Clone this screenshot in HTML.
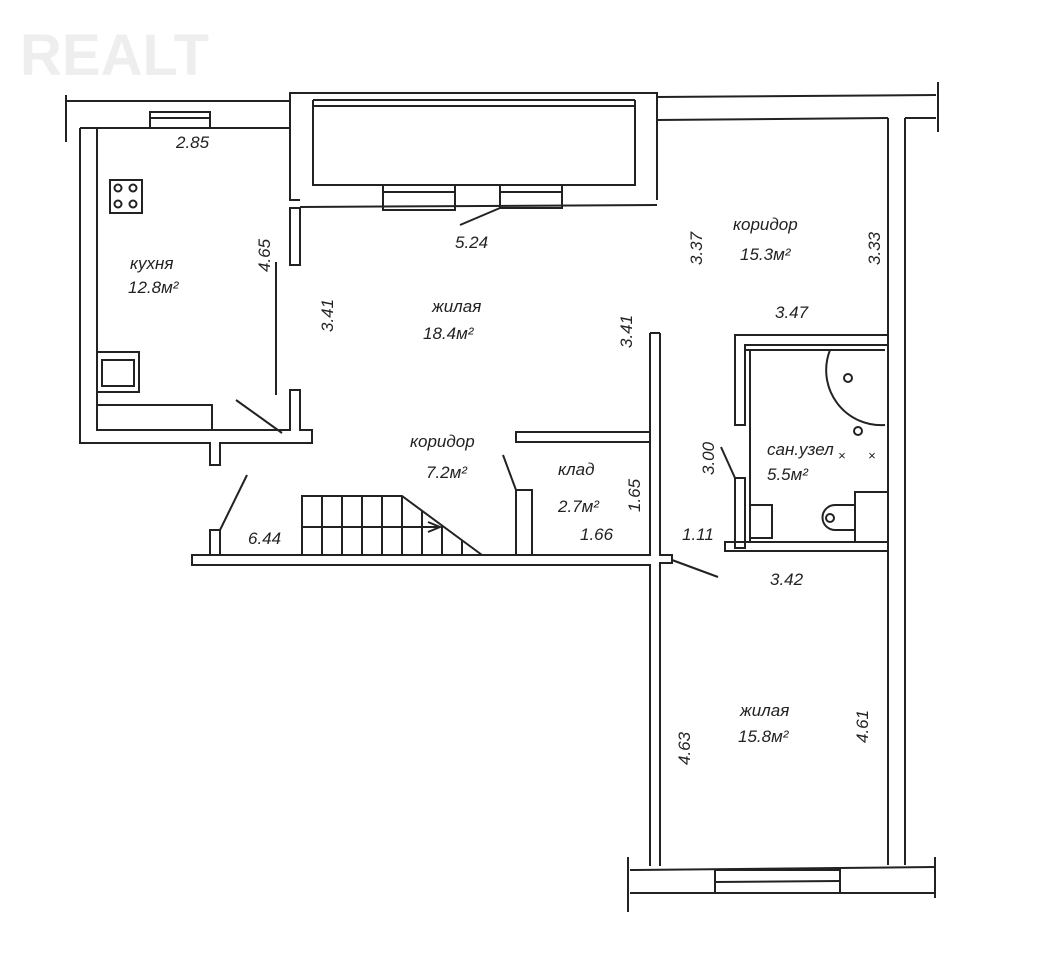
<!DOCTYPE html>
<html><head><meta charset="utf-8"><style>
html,body{margin:0;padding:0;background:#fff}
svg{display:block}
text{font-family:"Liberation Sans",sans-serif;font-style:italic;fill:#222;font-size:17px}
</style></head><body>
<svg width="1049" height="973" viewBox="0 0 1049 973" xmlns="http://www.w3.org/2000/svg">
<g fill="none" stroke="#222" stroke-width="2">
<!-- watermark -->
<text x="20" y="75" style="font-size:58px;font-style:normal;font-weight:bold;fill:#eee;stroke:none">REALT</text>
<!-- top left exterior -->
<line x1="66" y1="95" x2="66" y2="142"/>
<polyline points="66,101 290,101"/>
<polyline points="80,128 290,128"/>
<rect x="150" y="112" width="60" height="16"/>
<line x1="150" y1="118" x2="210" y2="118"/>
<!-- kitchen walls -->
<polyline points="290,128 290,200 300,200"/>
<polyline points="80,128 80,443 210,443 210,465 220,465 220,443 312,443 312,430 300,430 300,390 290,390 290,430 97,430 97,128"/>
<line x1="276" y1="262" x2="276" y2="395"/>
<line x1="236" y1="400" x2="282" y2="433"/>
<rect x="290" y="208" width="10" height="57"/>
<rect x="97" y="405" width="115" height="25"/>
<rect x="97" y="352" width="42" height="40"/>
<rect x="102" y="360" width="32" height="26"/>
<rect x="110" y="180" width="32" height="33"/>
<circle cx="118" cy="188" r="3.5"/><circle cx="133" cy="188" r="3.5"/>
<circle cx="118" cy="204" r="3.5"/><circle cx="133" cy="204" r="3.5"/>
<!-- loggia -->
<polyline points="290,200 290,93 657,93 657,200"/>
<polyline points="313,100 313,185 635,185 635,100"/>
<line x1="313" y1="100" x2="635" y2="100"/>
<line x1="313" y1="106" x2="635" y2="106"/>
<line x1="300" y1="207" x2="657" y2="205"/>
<rect x="383" y="185" width="72" height="25"/>
<line x1="383" y1="192" x2="455" y2="192"/>
<rect x="500" y="185" width="62" height="23"/>
<line x1="500" y1="192" x2="562" y2="192"/>
<line x1="500" y1="208" x2="460" y2="225"/>
<!-- top right exterior -->
<line x1="657" y1="97" x2="936" y2="95"/>
<line x1="657" y1="120" x2="888" y2="118"/>
<line x1="938" y1="82" x2="938" y2="132"/>
<line x1="936" y1="118" x2="905" y2="118"/>
<!-- right exterior wall -->
<line x1="888" y1="118" x2="888" y2="865"/>
<line x1="905" y1="118" x2="905" y2="865"/>
<!-- middle wall -->
<polyline points="650,333 650,555 192,555 192,565 650,565 650,866"/>
<polyline points="660,333 660,555 672,555 672,563 660,563 660,866"/>
<line x1="650" y1="333" x2="660" y2="333"/>
<line x1="672" y1="560" x2="718" y2="577"/>
<!-- corridor stubs -->
<rect x="516" y="432" width="134" height="10"/>
<rect x="516" y="490" width="16" height="65"/>
<line x1="503" y1="455" x2="516" y2="490"/>
<polyline points="210,555 210,530 220,530 220,555"/>
<line x1="220" y1="530" x2="247" y2="475"/>
<!-- stairs -->
<polyline points="302,555 302,496 402,496 482,555"/>
<line x1="302" y1="527" x2="440" y2="527"/>
<line x1="322" y1="496" x2="322" y2="555"/>
<line x1="342" y1="496" x2="342" y2="555"/>
<line x1="362" y1="496" x2="362" y2="555"/>
<line x1="382" y1="496" x2="382" y2="555"/>
<line x1="402" y1="496" x2="402" y2="555"/>
<line x1="422" y1="511" x2="422" y2="555"/>
<line x1="442" y1="526" x2="442" y2="555"/>
<line x1="462" y1="540" x2="462" y2="555"/>
<polyline points="428,522 440,527 428,532"/>
<!-- bathroom -->
<polyline points="888,335 735,335 735,425 745,425 745,345 888,345"/>
<rect x="735" y="478" width="10" height="70"/>
<line x1="721" y1="447" x2="735" y2="478"/>
<rect x="725" y="542" width="163" height="9"/>
<polyline points="745,345 745,350 885,350"/>
<line x1="750" y1="350" x2="750" y2="542"/>
<path d="M885,425 A55,55 0 0 1 830,350"/>
<circle cx="848" cy="378" r="4"/>
<circle cx="858" cy="431" r="4"/>
<rect x="750" y="505" width="22" height="33"/>
<polyline points="888,492 855,492 855,542"/>
<path d="M855,505 L835,505 A12,12 0 0 0 835,530 L855,530"/>
<circle cx="830" cy="518" r="4"/>
<!-- bottom exterior -->
<line x1="628" y1="857" x2="628" y2="912"/>
<line x1="935" y1="857" x2="935" y2="898"/>
<line x1="630" y1="870" x2="935" y2="867"/>
<line x1="630" y1="893" x2="935" y2="893"/>
<rect x="715" y="870" width="125" height="23"/>
<line x1="715" y1="882" x2="840" y2="881"/>
</g>
<g>
<text x="176" y="148">2.85</text>
<text x="130" y="269">кухня</text>
<text x="128" y="293">12.8м²</text>
<text x="455" y="248">5.24</text>
<text x="432" y="312">жилая</text>
<text x="423" y="339">18.4м²</text>
<text x="410" y="447">коридор</text>
<text x="426" y="478">7.2м²</text>
<text x="558" y="475">клад</text>
<text x="558" y="512">2.7м²</text>
<text x="580" y="540">1.66</text>
<text x="248" y="544">6.44</text>
<text x="733" y="230">коридор</text>
<text x="740" y="260">15.3м²</text>
<text x="775" y="318">3.47</text>
<text x="767" y="455">сан.узел</text>
<text x="767" y="480">5.5м²</text>
<text x="682" y="540">1.11</text>
<text x="770" y="585">3.42</text>
<text x="740" y="716">жилая</text>
<text x="738" y="742">15.8м²</text>
<text transform="translate(270,272) rotate(-90)">4.65</text>
<text transform="translate(333,332) rotate(-90)">3.41</text>
<text transform="translate(632,348) rotate(-90)">3.41</text>
<text transform="translate(702,265) rotate(-90)">3.37</text>
<text transform="translate(880,265) rotate(-90)">3.33</text>
<text transform="translate(714,475) rotate(-90)">3.00</text>
<text transform="translate(640,512) rotate(-90)">1.65</text>
<text transform="translate(690,765) rotate(-90)">4.63</text>
<text transform="translate(868,743) rotate(-90)">4.61</text>
<text x="838" y="460" style="font-size:13px">×</text>
<text x="868" y="460" style="font-size:13px">×</text>
</g>
</svg>
</body></html>
